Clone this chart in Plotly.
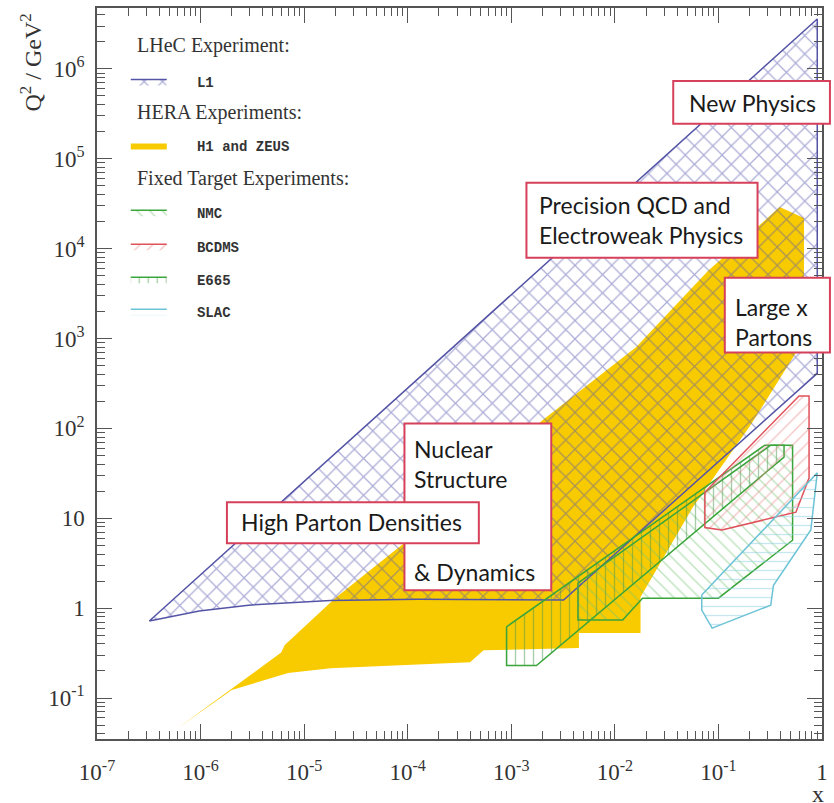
import plotly.graph_objects as go

# ---------------- data (x, Q^2 in GeV^2) ----------------
l1_x = [3.2e-7, 0.9, 0.9, 3.2e-3, 1.24e-4, 1.8e-5, 2.9e-6, 9.7e-7, 3.2e-7]
l1_q2 = [0.72, 3.6e6, 410, 1.23, 1.26, 1.22, 1.08, 0.93, 0.72]

hera_x = [6.0e-7, 6.0e-6, 6.5e-6, 2.0e-5, 1.0e-4, 2.0e-3, 0.016, 0.08, 0.26, 0.39,
          0.67, 0.67, 0.58, 0.21, 0.056, 0.0177, 0.0177, 4.5e-3, 4.5e-3, 5.4e-4,
          4.0e-4, 1.8e-5, 7.0e-6, 2.0e-6, 6.0e-7]
hera_q2 = [0.046, 0.32, 0.39, 1.3, 5.7, 123, 800, 5700, 1.9e4, 2.9e4,
           2.2e4, 4800, 740, 114, 13, 1.33, 0.53, 0.53, 0.36, 0.34,
           0.25, 0.215, 0.19, 0.123, 0.046]

nmc_x = [4.4e-3, 4.4e-3, 0.0119, 0.0185, 0.1, 0.52, 0.52, 0.32, 4.4e-3]
nmc_q2 = [1.9, 0.74, 0.74, 1.29, 1.29, 5.7, 65, 65, 1.9]

e665_x = [9.0e-4, 9.0e-4, 1.75e-3, 0.43, 0.43, 0.28, 9.0e-4]
e665_q2 = [0.62, 0.23, 0.23, 48, 65, 65, 0.62]

bcdms_x = [0.074, 0.074, 0.108, 0.56, 0.75, 0.75, 0.6, 0.074]
bcdms_q2 = [19.5, 7.9, 7.4, 11.7, 28, 230, 230, 19.5]

slac_x = [0.069, 0.069, 0.087, 0.32, 0.34, 0.78, 0.9, 0.069]
slac_q2 = [1.4, 0.95, 0.6, 1.08, 1.8, 7.4, 32, 1.4]

x_tickvals = [1e-7, 1e-6, 1e-5, 1e-4, 1e-3, 1e-2, 1e-1, 1]
x_ticktext = ["10<sup>-7</sup>", "10<sup>-6</sup>", "10<sup>-5</sup>", "10<sup>-4</sup>",
              "10<sup>-3</sup>", "10<sup>-2</sup>", "10<sup>-1</sup>", "1"]
y_tickvals = [1e-1, 1, 10, 1e2, 1e3, 1e4, 1e5, 1e6]
y_ticktext = ["10<sup>-1</sup>", "1", "10", "10<sup>2</sup>", "10<sup>3</sup>",
              "10<sup>4</sup>", "10<sup>5</sup>", "10<sup>6</sup>"]

legend_headers = ["LHeC Experiment:", "HERA Experiments:", "Fixed Target Experiments:"]
region_labels = ["New Physics", "Precision QCD and<br>Electroweak Physics",
                 "Large x<br>Partons", "Nuclear<br>Structure", "& Dynamics",
                 "High Parton Densities"]

# ---------------- geometry helpers (pixel -> paper) ----------------
W, H = 834, 803
L, R, T, B = 97, 828, 7, 739


def px(p):
    return (p - L) / (R - L)


def py(p):
    return (B - p) / (B - T)


GOLD = "#f8cb00"
BLUE = "#5454a6"
GREEN = "#3aa53a"
RED = "#e0525a"
CYAN = "#6cc3d6"
BOXRED = "#d6405a"

fig = go.Figure()

fig.add_trace(go.Scatter(
    x=hera_x, y=hera_q2, mode="lines", fill="toself", name="   H1 and ZEUS",
    line=dict(width=0, color=GOLD), fillcolor=GOLD, legend="legend2"))

fig.add_trace(go.Scatter(
    x=l1_x, y=l1_q2, mode="lines", fill="toself", name="   L1",
    line=dict(width=1.5, color=BLUE), fillcolor="rgba(0,0,0,0)",
    fillpattern=dict(shape="x", fgcolor="#5a5ab0", bgcolor="rgba(0,0,0,0)",
                     size=13, solidity=0.18),
    legend="legend"))

fig.add_trace(go.Scatter(
    x=nmc_x, y=nmc_q2, mode="lines", fill="toself", name="   NMC",
    line=dict(width=1.5, color=GREEN), fillcolor="rgba(0,0,0,0)",
    fillpattern=dict(shape="\\", fgcolor="#74c474", bgcolor="rgba(0,0,0,0)",
                     size=9, solidity=0.15),
    legend="legend3"))

fig.add_trace(go.Scatter(
    x=e665_x, y=e665_q2, mode="lines", fill="toself", name="   E665",
    line=dict(width=1.5, color=GREEN), fillcolor="rgba(0,0,0,0)",
    fillpattern=dict(shape="|", fgcolor="#4f9a4f", bgcolor="rgba(0,0,0,0)",
                     size=9, solidity=0.15),
    legend="legend5"))

fig.add_trace(go.Scatter(
    x=bcdms_x, y=bcdms_q2, mode="lines", fill="toself", name="   BCDMS",
    line=dict(width=1.5, color=RED), fillcolor="rgba(0,0,0,0)",
    fillpattern=dict(shape="/", fgcolor="#e88a8a", bgcolor="rgba(0,0,0,0)",
                     size=9, solidity=0.15),
    legend="legend4"))

fig.add_trace(go.Scatter(
    x=slac_x, y=slac_q2, mode="lines", fill="toself", name="   SLAC",
    line=dict(width=1.5, color=CYAN), fillcolor="rgba(0,0,0,0)",
    fillpattern=dict(shape="-", fgcolor="#8dd0e0", bgcolor="rgba(0,0,0,0)",
                     size=9, solidity=0.15),
    legend="legend6"))

item_font = dict(family="Liberation Mono", size=14, color="#333333", weight="bold")


def legend_cfg(ycenter):
    return dict(x=px(126), y=py(ycenter - 17), xanchor="left", yanchor="top",
                bgcolor="rgba(0,0,0,0)", borderwidth=0, font=item_font,
                itemwidth=36)


ann_font = dict(family="Lato", size=23, color="#1a1a1a")

boxes = [
    (678, 80, 836, 123),
    (530, 182, 763, 257),
    (730, 277, 836, 352),
    (407, 423, 555, 590),
    (228, 502, 482, 543),
]
shapes = []
for (x0, y0, x1, y1) in boxes:
    shapes.append(dict(type="rect", xref="paper", yref="paper",
                       x0=px(x0), x1=px(x1), y0=py(y1), y1=py(y0),
                       line=dict(color=BOXRED, width=2), fillcolor="white",
                       layer="above"))

ann_pos = [(692, 102), (541, 219), (738, 321), (415, 464), (415, 572), (240, 522)]
annotations = []
for txt, (ax, ay) in zip(region_labels, ann_pos):
    annotations.append(dict(text=txt, xref="paper", yref="paper", x=px(ax), y=py(ay),
                            xanchor="left", yanchor="middle", align="left",
                            showarrow=False, font=ann_font))

header_pos = [45, 112, 178]
for txt, hy in zip(legend_headers, header_pos):
    annotations.append(dict(text=txt, xref="paper", yref="paper", x=px(135), y=py(hy),
                            xanchor="left", yanchor="middle", showarrow=False,
                            font=dict(family="Liberation Serif", size=20, color="#333333")))

annotations.append(dict(text="Q<sup>2</sup> / GeV<sup>2</sup>", xref="paper", yref="paper",
                        x=px(30), y=py(62), textangle=-90, showarrow=False,
                        xanchor="center", yanchor="middle",
                        font=dict(family="Liberation Serif", size=24, color="#333333")))
annotations.append(dict(text="x", xref="paper", yref="paper", x=px(824), y=py(794),
                        showarrow=False, xanchor="center", yanchor="middle",
                        font=dict(family="Liberation Serif", size=24, color="#333333")))

axis_common = dict(type="log", showgrid=False, zeroline=False, showline=True,
                   linecolor="#555555", linewidth=1.5, mirror="allticks",
                   ticks="inside", ticklen=15, tickcolor="#555555", tickwidth=1.2,
                   tickfont=dict(family="Liberation Serif", size=23, color="#333333"),
                   minor=dict(ticks="inside", ticklen=8, tickcolor="#555555",
                              tickwidth=1, dtick="D1", showgrid=False))

fig.update_layout(
    width=W, height=H, margin=dict(l=L, r=W - R, t=T, b=H - B),
    paper_bgcolor="white", plot_bgcolor="white", showlegend=True,
    xaxis=dict(range=[-7, 0], tickvals=x_tickvals, ticktext=x_ticktext,
               ticklabelstandoff=12, **axis_common),
    yaxis=dict(range=[-1.456, 6.678], tickvals=y_tickvals, ticktext=y_ticktext,
               ticklabelstandoff=6, **axis_common),
    shapes=shapes, annotations=annotations,
    legend=legend_cfg(82),
    legend2=legend_cfg(146),
    legend3=legend_cfg(213),
    legend4=legend_cfg(247),
    legend5=legend_cfg(280),
    legend6=legend_cfg(312),
)

fig.write_html("out.html")
